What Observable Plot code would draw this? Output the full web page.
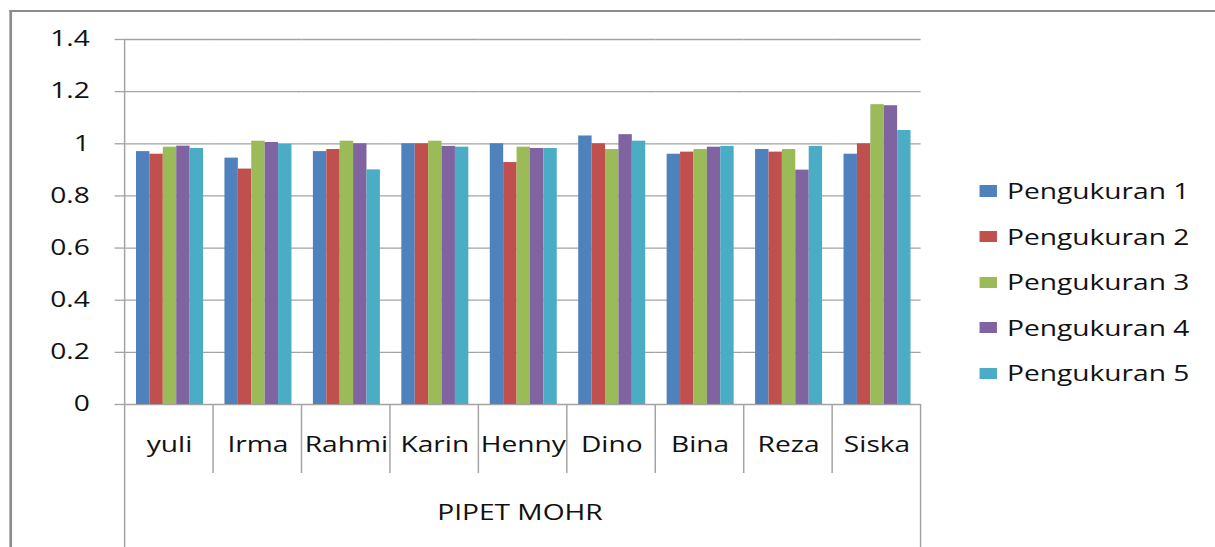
<!DOCTYPE html>
<html><head><meta charset="utf-8">
<script src="https://cdn.jsdelivr.net/npm/d3@7"></script>
<script src="https://cdn.jsdelivr.net/npm/@observablehq/plot@0.6"></script>
<style>
html,body{margin:0;padding:0;background:#fff;overflow:hidden}
#wrap{position:relative;width:907px;height:547px;transform:scaleX(1.34);transform-origin:0 0;font-family:"Open Sans",sans-serif}
#border{position:absolute;left:6.7px;top:10px;width:1000px;height:600px;border-left:2px solid #8c8c8c;border-top:2.4px solid #8c8c8c;box-sizing:border-box}
#chart{position:absolute;left:0;top:0}
#legend{position:absolute;left:730.6px;top:0}
.item{position:absolute;left:0;display:flex;align-items:center;height:24px;white-space:nowrap;font-size:21px;color:#111;line-height:24px}
.sw{width:13.4px;height:11.3px;margin-right:7.5px;flex:none}
</style></head><body>
<div id="wrap"><div id="border"></div><div id="chart"></div><div id="legend"></div></div>
<script>
const names = ["yuli","Irma","Rahmi","Karin","Henny","Dino","Bina","Reza","Siska"];
const seriesNames = ["Pengukuran 1","Pengukuran 2","Pengukuran 3","Pengukuran 4","Pengukuran 5"];
const colors = ["#4F81BD","#C0504D","#9BBB59","#8064A2","#4BACC6"];
const p1 = [0.970,0.945,0.970,1.000,1.000,1.030,0.960,0.978,0.960];
const p2 = [0.960,0.903,0.978,1.000,0.928,1.000,0.968,0.968,1.000];
const p3 = [0.987,1.010,1.010,1.010,0.987,0.978,0.978,0.978,1.150];
const p4 = [0.991,1.005,1.000,0.990,0.982,1.035,0.987,0.899,1.146];
const p5 = [0.982,0.998,0.900,0.987,0.982,1.010,0.990,0.990,1.051];
const yTicks = [0,0.2,0.4,0.6,0.8,1,1.2,1.4];
const axisTitle = "PIPET MOHR";

const seriesValues = [p1,p2,p3,p4,p5];
const rows = [];
names.forEach((n,i)=>seriesNames.forEach((s,j)=>rows.push({name:n, series:s, value:seriesValues[j][i]})));

const gray = "#a3a3a3";
const plot = Plot.plot({
  width: 907, height: 547,
  marginTop: 39, marginBottom: 143, marginLeft: 89.5, marginRight: 216.5,
  style: {fontFamily: '"Open Sans", sans-serif', fontSize: "21px", color: "#111", background: "transparent", overflow: "visible"},
  fx: {domain: names, padding: 0, label: null},
  x: {domain: seriesNames, paddingInner: 0, paddingOuter: 0.74, axis: null},
  y: {domain: [0, 1.4], label: null},
  color: {domain: seriesNames, range: colors},
  marks: [
    Plot.gridY(yTicks, {stroke: gray, strokeOpacity: 1, strokeWidth: 1.3}),
    Plot.axisY(yTicks, {tickSize: 7.5, tickPadding: 19, stroke: gray, strokeOpacity: 1, strokeWidth: 1.3, fill: "#111", tickFormat: d => String(+d.toFixed(1)), fontSize: 21, label: null}),
    Plot.axisFx({anchor: "bottom", tickSize: 0, tickPadding: 33, fontSize: 21, fill: "#111", label: null}),
    Plot.barY(rows, {fx: "name", x: "series", y: "value", fill: "series"})
  ]
});
document.getElementById("chart").appendChild(plot);

// category separators and axis lines, computed from the scales
const fx = plot.scale("fx"), y = plot.scale("y");
const svg = d3.select(plot);
const y0 = y.apply(0), yTop = y.apply(1.4);
const starts = names.map(n => fx.apply(n));
const left = starts[0], right = starts[starts.length-1] + fx.bandwidth;
const g = svg.append("g").attr("stroke", gray).attr("stroke-width", 1.1);
starts.slice(1).forEach(x => g.append("line").attr("x1", x).attr("x2", x).attr("y1", y0).attr("y2", y0 + 69));
g.append("line").attr("x1", left).attr("x2", left).attr("y1", yTop).attr("y2", 547);
g.append("line").attr("x1", right).attr("x2", right).attr("y1", y0).attr("y2", 547);
svg.append("text").attr("x", (left + right) / 2 - 2).attr("y", 520).attr("text-anchor", "middle")
  .attr("fill", "#111").attr("font-size", 21).text(axisTitle);

// legend
const legend = document.getElementById("legend");
seriesNames.forEach((s, i) => {
  const it = document.createElement("div");
  it.className = "item";
  it.style.top = (179 + 45.6 * i) + "px";
  const sw = document.createElement("span");
  sw.className = "sw"; sw.style.background = colors[i];
  const t = document.createElement("span");
  t.textContent = s;
  it.appendChild(sw); it.appendChild(t);
  legend.appendChild(it);
});
</script>
</body></html>
